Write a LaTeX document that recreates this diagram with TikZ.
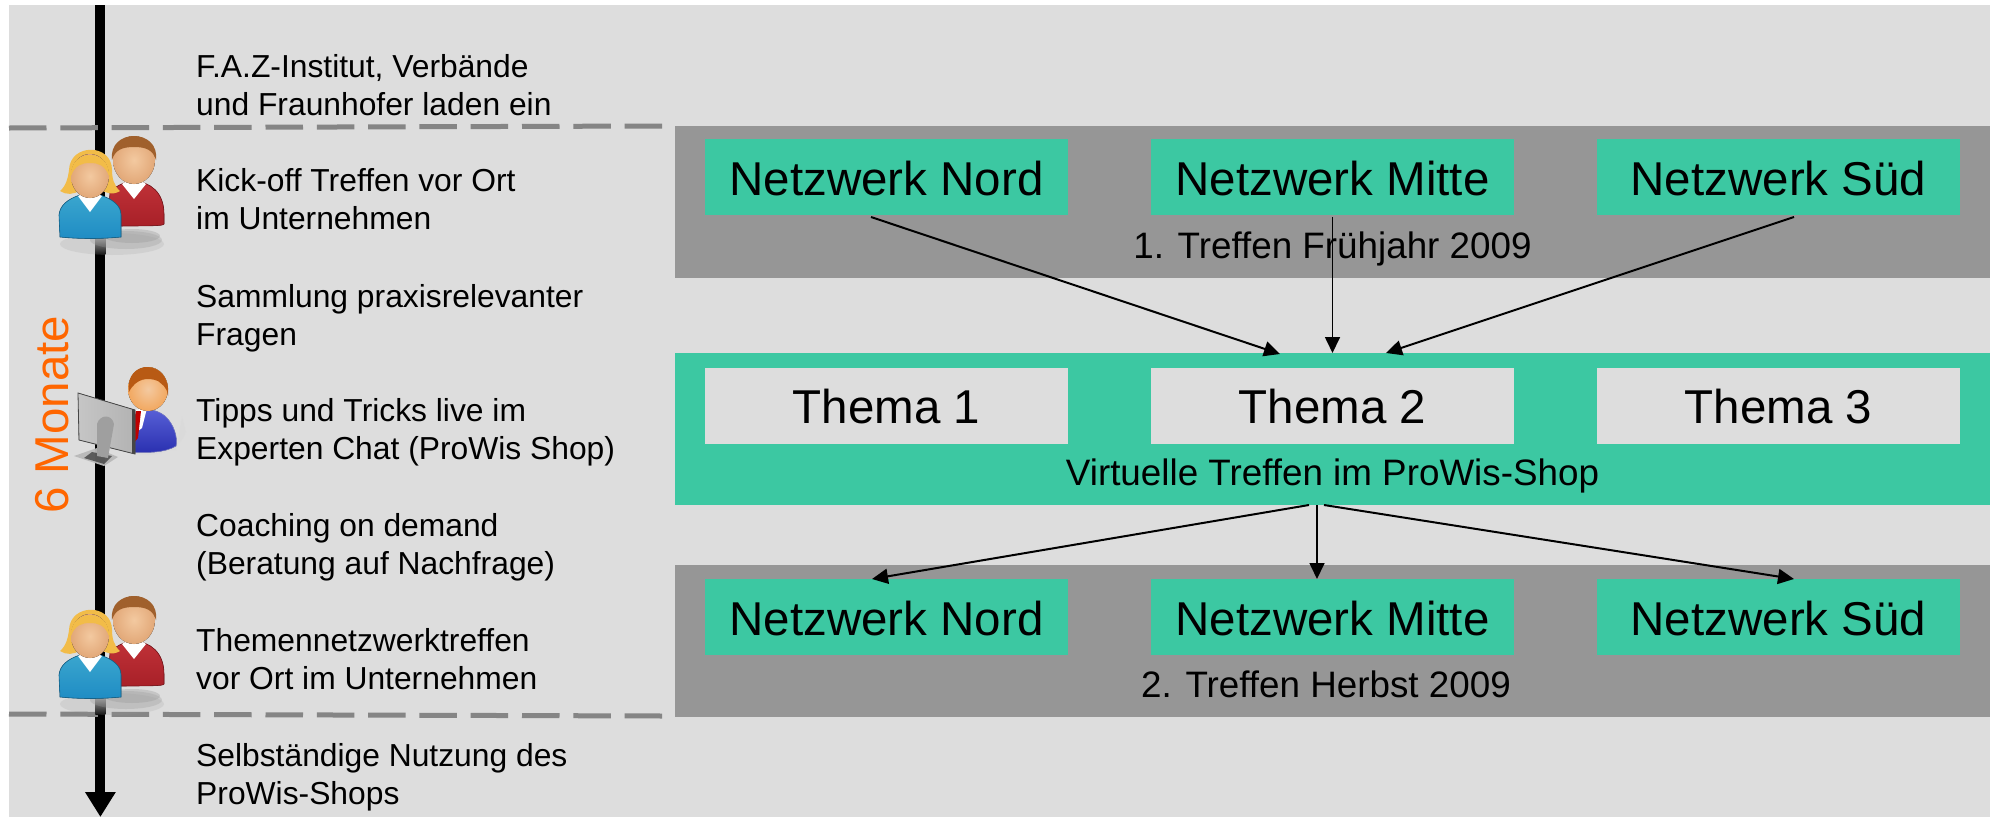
\documentclass[tikz,border=0pt]{standalone}
\usepackage{fontspec}
\setmainfont{Liberation Sans}
\usetikzlibrary{arrows.meta}
\definecolor{bgc}{HTML}{DDDDDD}
\definecolor{grp}{HTML}{969696}
\definecolor{teal1}{HTML}{3CC8A2}
\definecolor{dashc}{HTML}{858585}
\definecolor{orangec}{HTML}{FF6600}
\definecolor{skinA}{HTML}{F3C9A0}
\definecolor{skinB}{HTML}{E2A878}
\definecolor{hairM}{HTML}{A0602C}
\definecolor{hairW}{HTML}{F2BC48}
\definecolor{redA}{HTML}{C03238}
\definecolor{redB}{HTML}{A82028}
\definecolor{blueA}{HTML}{3AA6CE}
\definecolor{blueB}{HTML}{1F8CC4}
\definecolor{suitA}{HTML}{5A62D8}
\definecolor{suitB}{HTML}{2A30B0}
\definecolor{hairE}{HTML}{B85A14}
\definecolor{skinE}{HTML}{F2A860}
\tikzset{
  band/.style={inner sep=0pt,outer sep=0pt,minimum height=152pt,minimum width=1315pt,anchor=north west},
  netbox/.style={fill=teal1,inner sep=0pt,outer sep=0pt,minimum width=363pt,font=\fontsize{47.5}{50}\selectfont,text height=56pt,text depth=20pt,anchor=center},
  themabox/.style={netbox,fill=bgc,text height=55pt,text depth=21pt},
  caption/.style={inner sep=0pt,anchor=base,font=\fontsize{36.8}{40}\selectfont},
  stepnote/.style={inner sep=0pt,anchor=base west,align=left,font=\fontsize{31.8}{37.7}\selectfont},
  link/.style={line width=2pt,-{Triangle[length=16pt,width=15pt]}},
  linkthin/.style={line width=1.7pt,-{Triangle[length=16pt,width=15pt]}},
  divider/.style={draw=dashc,line width=5pt,dash pattern=on 37.5pt off 13.8pt},
  pics/people/.style={code={
    % axis emerging from the shadow
    \shade[top color=gray!60,bottom color=black] (95.4,236) rectangle (105.4,254);
    % soft shadow
    \fill[gray!80,opacity=.18] (112,244) ellipse (52 and 11);
    \fill[gray!80,opacity=.3] (126,240) ellipse (36 and 9);
    \fill[gray!80,opacity=.35] (132,236) ellipse (28 and 7);
    % man
    \fill[top color=redA,bottom color=redB,draw=redB!70!black,line width=.6pt] (108,226) -- (110,192) .. controls (118,184) and (128,181) .. (134,181) .. controls (150,182) and (164,192) .. (164,214) -- (164,224) .. controls (164,226) and (150,226) .. cycle;
    \fill[white] (122,184) -- (134,199) -- (146,184) -- (134,176) -- cycle;
    \fill[inner color=skinA,outer color=skinB] (134,160) ellipse (21 and 24);
    \fill[hairM] (112,160) .. controls (108,128) and (160,128) .. (156,160) .. controls (153,150) and (146,147) .. (134,147) .. controls (122,147) and (115,150) .. (112,160) -- cycle;
    % woman
    \fill[hairW] (60,191) .. controls (66,186) and (68,178) .. (69,170) .. controls (70,143) and (112,143) .. (112,170) .. controls (112,178) and (114,186) .. (120,191) .. controls (112,196) and (105,192) .. (100,190) -- (80,190) .. controls (74,195) and (66,195) .. (60,191) -- cycle;
    \fill[top color=blueA,bottom color=blueB,draw=blueB!70!black,line width=.6pt] (60,237) -- (59,215) .. controls (60,205) and (68,199) .. (80,195) -- (100,195) .. controls (112,199) and (121,205) .. (121,215) -- (121,237) .. controls (100,239) and (80,239) .. (60,237) -- cycle;
    \fill[white] (78,196) -- (90,212) -- (102,196) -- (90,190) -- cycle;
    \fill[inner color=skinA,outer color=skinB] (90,176) ellipse (19 and 22);
    \fill[hairW] (71,176) .. controls (70,148) and (110,148) .. (109,176) .. controls (105,165) and (98,163) .. (90,163) .. controls (82,163) and (75,165) .. (71,176) -- cycle;
  }}
}
\begin{document}
\begin{tikzpicture}[x=1pt,y=-1pt]
\useasboundingbox (0,0) rectangle (1990,817);
\fill[white] (0,0) rectangle (1990,817);
\fill[bgc] (9,5) rectangle (1990,817);

% bands
\node[band,fill=grp] (treffenA) at (675,126) {};
\node[band,fill=teal1] (virtuell) at (675,353) {};
\node[band,fill=grp] (treffenB) at (675,565) {};

% boxes
\node[netbox] (nordA) at (886.5,177) {Netzwerk Nord};
\node[netbox] (mitteA) at (1332.5,177) {Netzwerk Mitte};
\node[netbox] (suedA) at (1778.5,177) {Netzwerk Süd};
\node[themabox] (thema1) at (886.5,406) {Thema 1};
\node[themabox] (thema2) at (1332.5,406) {Thema 2};
\node[themabox] (thema3) at (1778.5,406) {Thema 3};
\node[netbox] (nordB) at (886.5,617) {Netzwerk Nord};
\node[netbox] (mitteB) at (1332.5,617) {Netzwerk Mitte};
\node[netbox] (suedB) at (1778.5,617) {Netzwerk Süd};

% captions
\node[caption] (capA) at (1332.5,258) {1. Treffen Frühjahr 2009};
\node[caption] (capV) at (1332.5,485) {Virtuelle Treffen im ProWis-Shop};
\node[caption] (capB) at (1326,697) {2. Treffen Herbst 2009};

% connectors
\draw[link] ([xshift=-15.5pt,yshift=-2pt]nordA.south) -- ([xshift=-52.5pt,yshift=-1pt]virtuell.north);
\draw[linkthin] ([yshift=-2pt]mitteA.south) -- (virtuell.north);
\draw[link] ([xshift=15.5pt,yshift=-2pt]suedA.south) -- ([xshift=53.5pt]virtuell.north);
\draw[link] ([xshift=-23.5pt]virtuell.south) -- ([xshift=-14.5pt]nordB.north);
\draw[linkthin] ([xshift=-15.5pt]virtuell.south) -- ([xshift=-15.5pt]mitteB.north);
\draw[link] ([xshift=-8.5pt]virtuell.south) -- ([xshift=15.5pt]suedB.north);

% time axis
\coordinate (axisTop) at (100.4,5);
\coordinate (axisEnd) at (100.4,817);
\draw[line width=10pt,-{Triangle[length=25pt,width=29pt]}] (axisTop) -- (axisEnd);

% dividers
\coordinate (divAa) at (9,128);
\coordinate (divAb) at (663,126);
\coordinate (divBa) at (9,714);
\coordinate (divBb) at (663,716);
\draw[divider] (divAa) -- (divAb);
\draw[divider] (divBa) -- (divBb);

% icons
\pic {people};
\pic at (0,460) {people};
% expert at monitor
\fill[gray!30,opacity=.5] (130,452) .. controls (150,460) and (180,452) .. (186,432) -- (182,416) -- (176,450) -- cycle;
\fill[top color=suitA,bottom color=suitB,draw=suitB!60,line width=.5pt] (130,452) -- (131,414) .. controls (140,407) and (155,408) .. (165,416) .. controls (174,424) and (178,438) .. (176,446) .. controls (165,453) and (145,453) .. (130,452) -- cycle;
\fill[white] (134,410) -- (147,408) -- (142,428) -- (134,434) -- cycle;
\fill[red!75!black] (136,411) -- (141,411) -- (140,420) -- (138,438) -- (133,444) -- (134,420) -- cycle;
\fill[inner color=skinA,outer color=skinE] (148,389) ellipse (20 and 22);
\fill[hairE] (129,392) .. controls (124,358) and (172,358) .. (168,396) .. controls (167,386) and (161,384) .. (158,381) .. controls (148,377) and (136,378) .. (129,392) -- cycle;
\fill[gray!55,opacity=.95] (74,456) -- (97,448) -- (118,457) -- (104,466) -- cycle;
\fill[gray!40!black,opacity=.7] (92,452) -- (112,456) -- (104,464) -- (84,458) -- cycle;
\fill[left color=gray!45,right color=gray!60,draw=gray!55!black,line width=.8pt] (78,393) -- (135,410) -- (135,454) -- (79,440) -- cycle;
\fill[gray!55!black] (132,409) -- (135,410) -- (135,454) -- (132,453) -- cycle;
\fill[gray!75] (97,424) .. controls (100,414) and (112,414) .. (114,424) -- (108,458) -- (97,456) -- cycle;

% orange label
\node[inner sep=0pt,anchor=base west,rotate=90,text=orangec,font=\fontsize{47.5}{50}\selectfont] (dauer) at (68,514) {6 Monate};

% step notes (positioned at the baseline)
\node[stepnote] (s1) at (196,115) {F.A.Z-Institut, Verbände\\und Fraunhofer laden ein};
\node[stepnote] (s2) at (196,229) {Kick-off Treffen vor Ort\\im Unternehmen};
\node[stepnote] (s3) at (196,345) {Sammlung praxisrelevanter\\Fragen};
\node[stepnote] (s4) at (196,459) {Tipps und Tricks live im\\Experten Chat (ProWis Shop)};
\node[stepnote] (s5) at (196,574) {Coaching on demand\\(Beratung auf Nachfrage)};
\node[stepnote] (s6) at (196,689) {Themennetzwerktreffen\\vor Ort im Unternehmen};
\node[stepnote] (s7) at (196,804) {Selbständige Nutzung des\\ProWis-Shops};
\end{tikzpicture}
\end{document}
